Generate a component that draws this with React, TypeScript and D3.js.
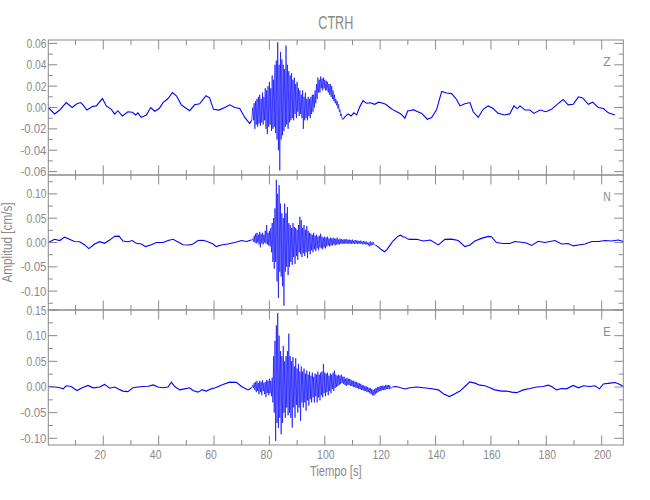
import React from 'react';
import * as d3 from 'd3';

// ---------------- data ----------------
const title = 'CTRH';
const channelNames = ['Z', 'N', 'E'];
const xTickLabels = [20, 40, 60, 80, 100, 120, 140, 160, 180, 200];
const xMinorTicks = [10, 30, 50, 70, 90, 110, 130, 150, 170, 190];

const zTickLabels = [-0.06, -0.04, -0.02, 0, 0.02, 0.04, 0.06];
const zMinorTicks = [-0.05, -0.03, -0.01, 0.01, 0.03, 0.05];
const nTickLabels = [-0.1, -0.05, 0, 0.05, 0.1];
const nMinorTicks = [-0.125, -0.075, -0.025, 0.025, 0.075, 0.125];
const eTickLabels = [-0.1, -0.05, 0, 0.05, 0.1, 0.15];
const eMinorTicks = [-0.075, -0.025, 0.025, 0.075, 0.125];

const zRange = [-0.0632, 0.0632];
const nRange = [-0.1388, 0.1388];
const eRange = [-0.113, 0.15];

// quiet part of each trace: [time s, velocity cm/s]
const zBefore = [[0.15,0],[2.4,-0.006],[4.3,-0.0024],[6.6,0.0046],[8.8,0],[10.3,0.0033],[11.8,0.0046],[12.7,0.0025],[14.1,-0.0024],[16.1,0.001],[17.5,0.0015],[19.7,0.0084],[21.1,0.0015],[22.9,-0.0017],[24.1,-0.0062],[25.3,-0.003],[26.9,-0.008],[28.9,-0.004],[30.5,-0.0045],[31.7,-0.007],[32.5,-0.005],[33.7,-0.0093],[35.6,-0.007],[37.1,0],[38.6,-0.0035],[40.2,-0.001],[41.6,0.0046],[43.4,0.0084],[45.0,0.014],[46.4,0.011],[48.2,0.0025],[49.4,0.0003],[51.2,-0.003],[53.0,0.0025],[54.8,0.0035],[57.1,0.011],[58.4,0.009],[59.8,-0.0017],[61.8,-0.0024],[63.9,0],[65.7,0.0025],[67.5,0],[69.3,-0.001],[71.1,-0.0093],[72.9,-0.015],[73.6,-0.012]];
const zStart = 74;
const zHi = [0.000,0.004,0.006,0.008,0.010,0.012,0.008,0.014,0.010,0.018,0.016,0.020,0.024,0.018,0.030,0.026,0.040,0.044,0.061,0.040,0.052,0.045,0.040,0.036,0.058,0.040,0.034,0.030,0.032,0.026,0.028,0.022,0.024,0.018,0.016,0.012,0.016,0.010,0.014,0.008,0.010,0.008,0.010,0.012,0.012,0.016,0.022,0.028,0.026,0.029,0.027,0.028,0.026,0.025,0.024,0.022,0.022,0.020,0.016,0.012,0.008,0.006,0.003,-0.002,-0.006];
const zLo = [-0.012,-0.020,-0.016,-0.018,-0.015,-0.017,-0.014,-0.016,-0.012,-0.020,-0.025,-0.018,-0.016,-0.022,-0.020,-0.018,-0.024,-0.030,-0.040,-0.059,-0.030,-0.026,-0.022,-0.018,-0.016,-0.020,-0.014,-0.012,-0.010,-0.012,-0.006,-0.010,-0.004,-0.008,-0.006,-0.010,-0.020,-0.012,-0.010,-0.012,-0.008,-0.010,-0.006,-0.004,0.000,0.004,0.008,0.014,0.014,0.018,0.016,0.018,0.016,0.016,0.014,0.012,0.010,0.008,0.006,0.004,0.002,-0.001,-0.004,-0.008,-0.011];
const zAfter = [[106.6,-0.011],[107.5,-0.008],[108.5,-0.006],[109.5,-0.008],[110.5,-0.005],[111.5,-0.007],[112.5,0],[113.8,0.0064],[115,0.004],[116.5,0.0045],[118,0.003],[119.5,0.005],[121,0.004],[122,0.003],[123.5,0],[124.5,-0.002],[126,-0.004],[127.5,-0.006],[128.9,-0.010],[130,-0.003],[130.7,-0.003],[132,-0.002],[133.2,-0.0035],[135,-0.0055],[137,-0.011],[138.6,-0.0093],[140.4,-0.002],[142.2,0.015],[144,0.0135],[145.8,0.013],[147.6,0.0075],[148.8,0.0015],[150.6,0.0035],[152.4,0.0046],[153.6,-0.004],[155.4,-0.0093],[157.2,-0.0017],[159,0.0015],[160.8,-0.001],[162.6,-0.0055],[165,-0.007],[166.8,-0.006],[168.3,0.0015],[169.5,-0.001],[170.5,0.0015],[172.3,-0.0024],[174.1,-0.0024],[175.5,-0.0055],[177.7,-0.0024],[179.8,-0.004],[181.9,-0.0017],[183.7,0.0025],[186.1,0.0075],[187.9,0.0025],[189.7,0.003],[191.6,0.010],[193.1,0.009],[195.2,0.003],[196.7,0.005],[198.8,0],[200.6,-0.001],[202.4,-0.005],[204.8,-0.007]];

const nBefore = [[0.15,0],[2.4,0.0065],[4.3,0.004],[6.0,0.011],[7.8,0.0065],[9.6,0.002],[11.5,0.0017],[13.3,-0.005],[14.8,-0.0126],[16.9,-0.003],[18.7,0.0017],[20.5,-0.0017],[22.3,0.005],[24.1,0.0126],[25.7,0.013],[27.1,0.003],[28.9,0.0017],[30.5,0.004],[31.9,-0.0017],[33.7,-0.003],[35.3,-0.0085],[37.4,-0.0045],[39.2,0],[41.6,0],[43.4,0.004],[45.2,0.0065],[47,0.001],[48.8,-0.0045],[51,-0.005],[52.4,-0.003],[54.2,0.004],[56,0.0045],[57.8,0.0017],[59.6,-0.003],[60.8,-0.0085],[62.6,-0.005],[65,-0.003],[67.5,0],[69.9,0.004],[71.7,0.002],[73.5,0.005]];
const nStart = 74;
const nHi = [0.008,0.014,0.018,0.020,0.016,0.022,0.018,0.020,0.016,0.024,0.036,0.020,0.024,0.030,0.040,0.050,0.070,0.129,0.100,0.118,0.080,0.060,0.050,0.080,0.060,0.073,0.040,0.036,0.030,0.040,0.032,0.030,0.026,0.036,0.053,0.046,0.030,0.036,0.026,0.034,0.024,0.020,0.018,0.016,0.020,0.014,0.016,0.012,0.014,0.018,0.012,0.010,0.012,0.010,0.012,0.008,0.010,0.008,0.010,0.008,0.008,0.010,0.006,0.008,0.007,0.006,0.007,0.006,0.007,0.005,0.006,0.005,0.006,0.004,0.005,0.004,0.004,0.003,0.004,0.002,0.003,0.002,0.002,0.000,0.000,0.002,0.000,0.001];
const nLo = [0.002,0.000,-0.002,0.000,-0.004,-0.010,-0.002,-0.004,0.000,-0.002,-0.004,-0.006,-0.008,-0.020,-0.040,-0.054,-0.040,-0.080,-0.114,-0.060,-0.070,-0.090,-0.130,-0.060,-0.050,-0.067,-0.050,-0.040,-0.046,-0.030,-0.044,-0.028,-0.036,-0.020,-0.024,-0.030,-0.022,-0.028,-0.020,-0.032,-0.018,-0.024,-0.016,-0.020,-0.014,-0.018,-0.012,-0.016,-0.010,-0.012,-0.014,-0.010,-0.012,-0.008,-0.006,-0.008,-0.006,-0.006,-0.004,-0.006,-0.004,-0.004,-0.004,-0.002,-0.003,-0.002,-0.003,-0.002,-0.002,-0.003,-0.002,-0.003,-0.002,-0.003,-0.002,-0.003,-0.002,-0.003,-0.002,-0.004,-0.003,-0.004,-0.004,-0.006,-0.008,-0.006,-0.005,-0.004];
const nAfter = [[118.5,-0.006],[119.5,-0.010],[120.5,-0.015],[121.6,-0.019],[122.5,-0.014],[123.5,-0.006],[124.5,0.002],[125.5,0.008],[126.5,0.013],[127.3,0.015],[128.2,0.012],[129,0.011],[130,0.007],[130.7,0.0065],[133.2,0.0065],[135.6,0.003],[138.1,0.005],[141,-0.005],[143.4,0.0065],[145.8,0.007],[148.2,0.004],[150.6,-0.0085],[152.4,-0.005],[154.2,0.003],[156.6,0.0085],[159,0.0126],[160.2,0.012],[162,0],[164.4,-0.002],[166.8,-0.002],[168.6,0.002],[171,0.0005],[172.8,-0.001],[174.7,-0.006],[177.1,0.0024],[179.5,0],[181.3,0.002],[183.1,0.004],[185.5,-0.003],[187.9,-0.002],[189.7,-0.007],[191.6,-0.005],[194,-0.003],[196.4,0.002],[198.8,0.002],[201.2,0.004],[203.6,0.003],[206,0.005],[207.8,0.002]];

const eBefore = [[0.15,0.001],[2.4,0],[4.3,-0.0016],[5.5,-0.0036],[6.6,0.0023],[8.4,0.001],[10.5,-0.0069],[12.4,-0.0016],[14.5,0.003],[16.3,-0.0016],[18.7,0],[20.5,0.005],[22.3,-0.0023],[24.1,0],[25.3,-0.0036],[27.1,-0.008],[28.9,-0.009],[30.7,-0.0016],[32.5,0],[34.4,0.001],[36.2,0.0016],[38,0.004],[39.8,0],[41.6,-0.0016],[43.4,0],[44.6,0.0095],[45.8,0.001],[47.6,-0.0056],[49.4,-0.0036],[51.2,-0.0016],[52.4,-0.0069],[54.2,-0.010],[55.8,-0.0056],[57.2,-0.008],[59,-0.0036],[60.5,-0.0016],[63.2,0.005],[65.7,0.0095],[68.1,0.009],[69.9,0.001],[72.3,-0.0056],[73.5,-0.002]];
const eStart = 74;
const eHi = [0.004,0.008,0.010,0.012,0.008,0.012,0.010,0.013,0.008,0.010,0.014,0.012,0.016,0.012,0.018,0.060,0.090,0.120,0.144,0.100,0.070,0.060,0.080,0.050,0.060,0.070,0.104,0.060,0.050,0.058,0.040,0.056,0.036,0.045,0.030,0.040,0.030,0.036,0.026,0.032,0.024,0.030,0.022,0.028,0.020,0.026,0.024,0.030,0.024,0.028,0.030,0.045,0.028,0.026,0.028,0.022,0.026,0.024,0.028,0.032,0.024,0.022,0.024,0.022,0.024,0.020,0.020,0.016,0.018,0.016,0.016,0.014,0.012,0.012,0.010,0.010,0.008,0.007,0.006,0.004,0.003,0.002,0.001,0.000,-0.002,-0.002,-0.004,-0.006,-0.004,-0.002,0.000,0.000,0.002,0.002,0.003,0.002,0.004,0.004,0.004,0.003];
const eLo = [-0.002,-0.006,-0.010,-0.008,-0.014,-0.010,-0.016,-0.008,-0.014,-0.020,-0.012,-0.016,-0.012,-0.018,-0.030,-0.050,-0.105,-0.070,-0.080,-0.060,-0.092,-0.070,-0.050,-0.060,-0.040,-0.055,-0.050,-0.060,-0.079,-0.040,-0.060,-0.035,-0.050,-0.040,-0.066,-0.030,-0.040,-0.030,-0.046,-0.026,-0.036,-0.024,-0.030,-0.020,-0.030,-0.018,-0.030,-0.020,-0.026,-0.016,-0.020,-0.012,-0.018,-0.010,-0.016,-0.008,-0.012,-0.004,-0.008,-0.002,0.000,0.002,0.004,0.006,0.008,0.006,0.004,0.002,0.004,0.004,0.002,0.002,0.000,0.000,-0.002,-0.002,-0.004,-0.004,-0.006,-0.006,-0.008,-0.008,-0.010,-0.010,-0.012,-0.014,-0.016,-0.017,-0.014,-0.012,-0.010,-0.008,-0.008,-0.006,-0.006,-0.006,-0.004,-0.004,-0.004,-0.003];
const eAfter = [[124.5,0],[125.5,0.001],[126.5,0],[127.7,-0.002],[129,-0.004],[130.7,-0.0016],[133.2,0],[135.6,-0.0016],[138.1,-0.003],[141,-0.0056],[142.8,-0.013],[145,-0.0186],[147,-0.013],[148.8,-0.008],[150.6,0.001],[152.4,0.010],[154.2,0.0075],[156,0.0036],[157.8,0.0023],[159.6,-0.0016],[161.4,-0.0056],[163.8,-0.008],[165.6,-0.008],[167.5,-0.010],[169.3,-0.011],[171.7,-0.0056],[174.1,-0.003],[176.5,0],[178.9,0.001],[180.7,0.0036],[181.9,0.001],[183.7,-0.0056],[185.5,-0.003],[187.3,-0.0036],[189.7,0.003],[191.6,-0.0016],[193.4,0.0023],[195.8,0.001],[197.6,0.0023],[199.2,-0.0036],[200.6,0.006],[203,0.0075],[204.8,0.0088],[206.6,0.005],[207.8,0.001]];

// ---------------- layout ----------------
const W = 650;
const H = 500;
const LEFT = 48.3;
const RIGHT = 623.3;
const PANEL_TOP = 40;
const PANEL_H = 135;
const GRAY = '#8a8a8a';
const FONT = '"Liberation Sans", Arial, sans-serif';

type Pt = [number, number];

function activePoints(start: number, hi: number[], lo: number[]): Pt[] {
  const pts: Pt[] = [];
  hi.forEach((h, i) => {
    const t = start + i * 0.5;
    pts.push([t, h]);
    pts.push([t + 0.25, lo[i]]);
  });
  return pts;
}

function labelWidth(s: string): number {
  let w = 0;
  for (const c of s) w += c === '.' ? 2.7 : c === '-' ? 6 : 5.8;
  return w;
}

function fmt(v: number, decimals: number): string {
  const s = Math.abs(v).toFixed(decimals);
  return (v < -1e-9 ? '-' : '') + s;
}

const panels = [
  { name: channelNames[0], range: zRange, major: zTickLabels, minor: zMinorTicks, before: zBefore, after: zAfter, active: activePoints(zStart, zHi, zLo) },
  { name: channelNames[1], range: nRange, major: nTickLabels, minor: nMinorTicks, before: nBefore, after: nAfter, active: activePoints(nStart, nHi, nLo) },
  { name: channelNames[2], range: eRange, major: eTickLabels, minor: eMinorTicks, before: eBefore, after: eAfter, active: activePoints(eStart, eHi, eLo) },
];

export default function App() {
  const x = d3.scaleLinear().domain([0.15, 207.8]).range([LEFT, RIGHT]);

  return (
    <svg width={W} height={H} viewBox={`0 0 ${W} ${H}`} style={{ display: 'block', position: 'absolute', left: 0, top: 0, background: '#fff' }}>
      <defs>
        {panels.map((p, i) => (
          <clipPath id={`clip${i}`} key={i}>
            <rect x={LEFT} y={PANEL_TOP + i * PANEL_H} width={RIGHT - LEFT} height={PANEL_H} />
          </clipPath>
        ))}
      </defs>
      <rect x={0} y={0} width={W} height={H} fill="#fff" />
      <text x={335.8} y={29.3} textAnchor="middle" fontFamily={FONT} fontSize={18.5} fill={GRAY} textLength={35} lengthAdjust="spacingAndGlyphs">{title}</text>

      {panels.map((p, i) => {
        const top = PANEL_TOP + i * PANEL_H;
        const y = d3.scaleLinear().domain(p.range).range([top + PANEL_H, top]);
        const line = d3.line<Pt>().x((d) => x(d[0])).y((d) => y(d[1]));
        const before = p.before.map((d) => [d[0], d[1]] as Pt);
        const after = p.after.map((d) => [d[0], d[1]] as Pt);
        const act = p.active;
        const activeLink: Pt[] = [before[before.length - 1], ...act, after[0]];
        return (
          <g key={p.name}>
            <g clipPath={`url(#clip${i})`}>
              <path d={line(activeLink) || ''} fill="none" stroke="#0000ff" strokeWidth={0.65} />
              <path d={line(before) || ''} fill="none" stroke="#0000ff" strokeWidth={1.1} />
              <path d={line(after) || ''} fill="none" stroke="#0000ff" strokeWidth={1.1} />
            </g>
            <rect x={LEFT} y={top} width={RIGHT - LEFT} height={PANEL_H} fill="none" stroke={GRAY} strokeWidth={1} />
            {xTickLabels.map((t) => (
              <g key={'xm' + t}>
                <line x1={x(t)} x2={x(t)} y1={top} y2={top + 9.5} stroke={GRAY} />
                <line x1={x(t)} x2={x(t)} y1={top + PANEL_H} y2={top + PANEL_H - 9.5} stroke={GRAY} />
              </g>
            ))}
            {xMinorTicks.map((t) => (
              <g key={'xn' + t}>
                <line x1={x(t)} x2={x(t)} y1={top} y2={top + 5} stroke={GRAY} />
                <line x1={x(t)} x2={x(t)} y1={top + PANEL_H} y2={top + PANEL_H - 5} stroke={GRAY} />
              </g>
            ))}
            {p.major.map((v) => (
              <g key={'ym' + v}>
                <line x1={LEFT} x2={LEFT + 9} y1={y(v)} y2={y(v)} stroke={GRAY} />
                <line x1={RIGHT} x2={RIGHT - 9} y1={y(v)} y2={y(v)} stroke={GRAY} />
                <text x={46.5} y={y(v) + 4.5} textAnchor="end" fontFamily={FONT} fontSize={12.5} fill={GRAY}
                  textLength={labelWidth(fmt(v, 2))} lengthAdjust="spacingAndGlyphs">{fmt(v, 2)}</text>
              </g>
            ))}
            {p.minor.map((v) => (
              <g key={'yn' + v}>
                <line x1={LEFT} x2={LEFT + 4.5} y1={y(v)} y2={y(v)} stroke={GRAY} />
                <line x1={RIGHT} x2={RIGHT - 4.5} y1={y(v)} y2={y(v)} stroke={GRAY} />
              </g>
            ))}
            <text x={607} y={top + 26} textAnchor="middle" fontFamily={FONT} fontSize={13} fill={GRAY}
              textLength={7.5} lengthAdjust="spacingAndGlyphs">{p.name}</text>
          </g>
        );
      })}

      {xTickLabels.map((t) => {
        const s = String(t);
        const dx = s.length === 2 ? -3 : 1;
        return (
          <text key={'xl' + t} x={x(t) + dx} y={458.5} textAnchor="middle" fontFamily={FONT} fontSize={12.5} fill={GRAY}
            textLength={labelWidth(s)} lengthAdjust="spacingAndGlyphs">{s}</text>
        );
      })}
      <text x={335.8} y={475.7} textAnchor="middle" fontFamily={FONT} fontSize={14} fill={GRAY} textLength={51.7} lengthAdjust="spacingAndGlyphs">Tiempo [s]</text>
      <text transform={`translate(12,${PANEL_TOP + PANEL_H * 1.5}) rotate(-90)`} textAnchor="middle" fontFamily={FONT} fontSize={14} fill={GRAY} textLength={80} lengthAdjust="spacingAndGlyphs">Amplitud [cm/s]</text>
    </svg>
  );
}
